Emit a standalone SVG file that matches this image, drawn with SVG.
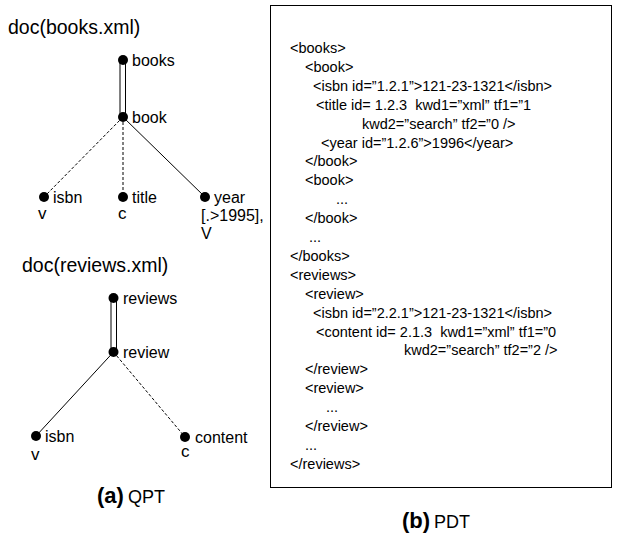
<svg xmlns="http://www.w3.org/2000/svg" width="624" height="535" viewBox="0 0 624 535">
<style>
text{font-family:"Liberation Sans",Arial,sans-serif;fill:#000}
.lbl{font-size:16px}
.vc{font-size:17px}
.ttl{font-size:19.5px}
.x{font-size:14.5px;white-space:pre}
.dot{fill:#000}
.e{stroke:#000;stroke-width:1;fill:none}
.d{stroke:#000;stroke-width:1;fill:none;stroke-dasharray:3,2}
.cap{font-size:22px;font-weight:bold}
.capn{font-size:18px}
</style>
<rect width="624" height="535" fill="#fff"/>
<text class="ttl" x="8" y="34">doc(books.xml)</text>
<text class="ttl" x="22" y="272">doc(reviews.xml)</text>
<g id="connectors">
<line class="e" x1="120" y1="60" x2="120" y2="116"/>
<line class="e" x1="125.5" y1="60" x2="125.5" y2="116"/>
<line class="d" x1="123" y1="117" x2="44" y2="197"/>
<line class="d" x1="123" y1="117" x2="123" y2="197"/>
<line class="e" x1="123" y1="117" x2="205" y2="197"/>
<line class="e" x1="111" y1="298" x2="111" y2="351"/>
<line class="e" x1="116.5" y1="298" x2="116.5" y2="351"/>
<line class="e" x1="113.5" y1="352" x2="36" y2="436"/>
<line class="d" x1="113.5" y1="352" x2="185" y2="437"/>
</g>
<g id="n-books"><circle class="dot" cx="123" cy="60" r="5"/><text class="lbl" x="132" y="66">books</text></g>
<g id="n-book"><circle class="dot" cx="123" cy="117" r="5"/><text class="lbl" x="132" y="123">book</text></g>
<g id="n-isbn1"><circle class="dot" cx="44" cy="197" r="5"/><text class="lbl" x="53" y="203">isbn</text><text class="vc" x="38" y="219">v</text></g>
<g id="n-title"><circle class="dot" cx="123" cy="197" r="5"/><text class="lbl" x="132" y="203">title</text><text class="vc" x="118" y="219">c</text></g>
<g id="n-year"><circle class="dot" cx="205" cy="197" r="5"/><text class="lbl" x="214" y="203">year</text><text class="lbl" x="201" y="221">[.&gt;1995],</text><text class="lbl" x="201" y="239">V</text></g>
<g id="n-reviews"><circle class="dot" cx="113.5" cy="298" r="5"/><text class="lbl" x="123" y="304">reviews</text></g>
<g id="n-review"><circle class="dot" cx="113.5" cy="352" r="5"/><text class="lbl" x="123" y="358">review</text></g>
<g id="n-isbn2"><circle class="dot" cx="36" cy="436" r="5"/><text class="lbl" x="45" y="442">isbn</text><text class="vc" x="31" y="460">v</text></g>
<g id="n-content"><circle class="dot" cx="185" cy="437" r="5"/><text class="lbl" x="195" y="443">content</text><text class="vc" x="181" y="457">c</text></g>
<g id="pdt">
<rect x="270.5" y="5.5" width="341" height="482" fill="none" stroke="#000" stroke-width="1"/>
<text class="x" x="290" y="53">&lt;books&gt;</text>
<text class="x" x="305" y="71.9">&lt;book&gt;</text>
<text class="x" x="313" y="90.8">&lt;isbn id=”1.2.1”&gt;121-23-1321&lt;/isbn&gt;</text>
<text class="x" x="316" y="109.7">&lt;title id= 1.2.3  kwd1=”xml” tf1=”1</text>
<text class="x" x="362" y="128.6">kwd2=”search” tf2=”0 /&gt;</text>
<text class="x" x="321" y="147.5">&lt;year id=”1.2.6”&gt;1996&lt;/year&gt;</text>
<text class="x" x="305" y="166.4">&lt;/book&gt;</text>
<text class="x" x="305" y="185.3">&lt;book&gt;</text>
<text class="x" x="336" y="204.2">...</text>
<text class="x" x="305" y="223.1">&lt;/book&gt;</text>
<text class="x" x="309" y="242">...</text>
<text class="x" x="290" y="260.9">&lt;/books&gt;</text>
<text class="x" x="290" y="279.8">&lt;reviews&gt;</text>
<text class="x" x="305" y="298.7">&lt;review&gt;</text>
<text class="x" x="313" y="317.6">&lt;isbn id=”2.2.1”&gt;121-23-1321&lt;/isbn&gt;</text>
<text class="x" x="316" y="336.5">&lt;content id= 2.1.3  kwd1=”xml” tf1=”0</text>
<text class="x" x="404" y="355.4">kwd2=”search” tf2=”2 /&gt;</text>
<text class="x" x="305" y="374.3">&lt;/review&gt;</text>
<text class="x" x="305" y="393.2">&lt;review&gt;</text>
<text class="x" x="326" y="412.1">...</text>
<text class="x" x="305" y="431">&lt;/review&gt;</text>
<text class="x" x="305" y="449.9">...</text>
<text class="x" x="290" y="468.8">&lt;/reviews&gt;</text>
</g>
<text x="97" y="503"><tspan class="cap">(a)</tspan><tspan class="capn" dx="4">QPT</tspan></text>
<text x="402" y="528"><tspan class="cap">(b)</tspan><tspan class="capn" dx="4">PDT</tspan></text>
</svg>
